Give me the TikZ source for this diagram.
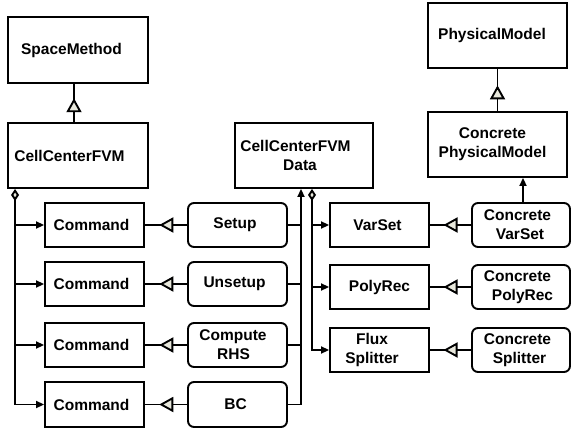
\documentclass[tikz,border=0pt]{standalone}
\usepackage{fontspec}
\setmainfont{Liberation Sans}
\usetikzlibrary{arrows.meta,decorations.markings,calc}
\definecolor{trifill}{RGB}{232,232,220}
\begin{document}
\begin{tikzpicture}[x=1pt,y=-1pt,
  box/.style={draw, line width=1.9pt, inner sep=0pt, align=center,
    font=\bfseries\fontsize{15.5}{19}\selectfont},
  rbox/.style={box, rounded corners=6pt},
  big/.style={minimum width=140pt, minimum height=65pt},
  small/.style={minimum width=99pt, minimum height=44pt},
  conn/.style={line width=1.9pt},
  fa/.style={-{Triangle[length=8pt,width=7pt]}},
  dfa/.style={{Diamond[length=12pt,width=8pt,fill=trifill]}-{Triangle[length=8pt,width=7pt]}},
  inh/.style={postaction={decorate}, decoration={markings,
    mark=at position #1 with {\arrow{Triangle[length=14pt,width=15pt,fill=trifill]}}}}
]
\useasboundingbox (0,0) rectangle (575,433);

% top level boxes
\node[box, big, minimum height=66pt] (sm) at (78,50) {SpaceMethod\kern13pt};
\node[box, big] (ccfvm) at (78,155.5) {CellCenterFVM\kern17pt};
\node[box, big, minimum width=138pt] (ccfd) at (304,155.5) {CellCenterFVM\kern17pt\\Data\kern8pt};
\node[box, big, minimum width=139pt] (pm) at (497.5,35.5) {PhysicalModel\kern11pt};
\node[box, big, minimum width=139pt] (cpm) at (497.5,144.5) {Concrete\kern10pt\\PhysicalModel\kern10pt};

% commands
\node[box, small] (cmd1) at (94.5,225) {Command\kern6pt};
\node[box, small] (cmd2) at (94.5,284) {Command\kern6pt};
\node[box, small] (cmd3) at (94.5,345) {Command\kern6pt};
\node[box, small, minimum height=45pt] (cmd4) at (94.5,404.5) {Command\kern6pt};

\node[rbox, small] (setup) at (237.5,225) {Setup\kern5pt};
\node[rbox, small] (unsetup) at (237.5,284) {Unsetup\kern6pt};
\node[rbox, small] (crhs) at (237.5,345) {Compute\kern9pt\\RHS\kern8pt};
\node[rbox, small, minimum height=45pt] (bc) at (237.5,404.5) {BC\kern4pt};

% strategies
\node[box, small] (varset) at (379.5,225) {VarSet\kern4pt};
\node[box, small] (polyrec) at (379.5,287) {PolyRec};
\node[box, small] (flux) at (379.5,350) {Flux\kern15pt\\Splitter\kern15pt};

\node[rbox, small, minimum width=98pt] (cvarset) at (521,225) {Concrete\kern7pt\\VarSet\kern2pt};
\node[rbox, small, minimum width=98pt] (cpolyrec) at (521,287) {Concrete\kern7pt\\\kern3pt PolyRec};
\node[rbox, small, minimum width=98pt] (csplit) at (521,350) {Concrete\kern7pt\\Splitter\kern3pt};

% inheritance
\coordinate (inhA) at ($(ccfvm.north)+(-4,0)$);
\draw[conn, inh=0.625] (inhA) -- (inhA |- sm.south);
\draw[conn, inh=0.61] (cpm.north) -- (pm.south);
\draw[conn, inh=0.66] (setup.west) -- (cmd1.east);
\draw[conn, inh=0.66] (unsetup.west) -- (cmd2.east);
\draw[conn, inh=0.66] (crhs.west) -- (cmd3.east);
\draw[conn, inh=0.66] (bc.west) -- (cmd4.east);
\draw[conn, inh=0.67] (cvarset.west) -- (varset.east);
\draw[conn, inh=0.67] (cpolyrec.west) -- (polyrec.east);
\draw[conn, inh=0.67] (csplit.west) -- (flux.east);

% concrete varset -> concrete physical model
\coordinate (cvtop) at ($(cvarset.north)+(2,0)$);
\draw[conn, fa] (cvtop) -- (cvtop |- cpm.south);

% left bus
\coordinate (busL) at ($(ccfvm.south west)+(8,0)$);
\draw[conn, dfa] (busL) |- (cmd4.west);
\draw[conn, fa] (busL |- cmd1.west) -- (cmd1.west);
\draw[conn, fa] (busL |- cmd2.west) -- (cmd2.west);
\draw[conn, fa] (busL |- cmd3.west) -- (cmd3.west);

% middle bus
\coordinate (busM) at ($(ccfd.south)+(-3,0)$);
\draw[conn, fa] (bc.east) -| (busM);
\draw[conn] (setup.east) -- (setup.east -| busM);
\draw[conn] (unsetup.east) -- (unsetup.east -| busM);
\draw[conn] (crhs.east) -- (crhs.east -| busM);

% right bus
\coordinate (busR) at ($(ccfd.south)+(8,0)$);
\draw[conn, dfa] (busR) |- (flux.west);
\draw[conn, fa] (busR |- varset.west) -- (varset.west);
\draw[conn, fa] (busR |- polyrec.west) -- (polyrec.west);
\end{tikzpicture}
\end{document}
